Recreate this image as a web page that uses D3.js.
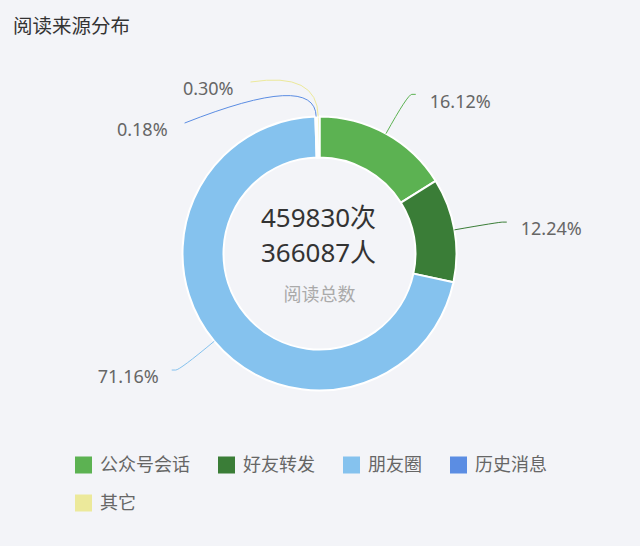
<!DOCTYPE html>
<html lang="zh">
<head>
<meta charset="UTF-8">
<title>阅读来源分布</title>
<script src="https://d3js.org/d3.v7.min.js"></script>
<style>
  html, body { margin: 0; padding: 0; background: #f3f4f8; }
  svg { display: block; }
</style>
</head>
<body>
<div id="chart"></div>
<script>
// data
const categories = ['公众号会话', '好友转发', '朋友圈', '历史消息', '其它'];
const shares = [16.12, 12.24, 71.16, 0.18, 0.30];
const colors = ['#5cb252', '#3a7d37', '#85c2ee', '#5b8de3', '#ece99b'];
const title = '阅读来源分布';
const centerLines = ['459830次', '366087人'];
const centerCaption = '阅读总数';

const width = 640, height = 546;
const cx = 319.5, cy = 253.5;
const rInner = 96, rOuter = 137;
const len1 = 45, len2 = 8;          // leader line segments
const labelFont = 'Noto Sans, "Noto Sans CJK SC", sans-serif';
// labels the overlap pass pushes down (px), keyed by category index
const labelShift = { 3: 51.5, 4: 10.5 };

const svg = d3.select('#chart').append('svg')
  .attr('width', width)
  .attr('height', height);

svg.append('text')
  .attr('x', 13)
  .attr('y', 33)
  .attr('font-family', labelFont)
  .attr('font-size', 19.5)
  .attr('fill', '#333')
  .text(title);

const pie = d3.pie().sort(null).value(d => d)(shares);
const arc = d3.arc().innerRadius(rInner).outerRadius(rOuter);

const g = svg.append('g').attr('transform', `translate(${cx},${cy})`);

g.selectAll('path.slice')
  .data(pie)
  .join('path')
  .attr('class', 'slice')
  .attr('d', arc)
  .attr('fill', (d, i) => colors[i])
  .attr('stroke', '#fff')
  .attr('stroke-width', 2);

// leader lines + labels
const R = rOuter + len1;
pie.forEach((d, i) => {
  const a = (d.startAngle + d.endAngle) / 2;
  const sx = rOuter * Math.sin(a), sy = -rOuter * Math.cos(a);
  const ex = R * Math.sin(a), ey = -R * Math.cos(a);
  const right = Math.sin(a) >= 0;
  let ly = ey, lx = ex;
  if (labelShift[i]) {
    ly = ey + labelShift[i];
    lx = (right ? 1 : -1) * Math.sqrt(R * R - ly * ly);
  }
  const endX = lx + (right ? len2 : -len2);
  const p = d3.path();
  p.moveTo(sx, sy);
  if (labelShift[i]) {
    p.quadraticCurveTo(ex, ey, endX, ly);
  } else {
    p.quadraticCurveTo(ex, ey, (ex + endX) / 2, ly);
    p.lineTo(endX, ly);
  }
  g.append('path')
    .attr('d', p.toString())
    .attr('fill', 'none')
    .attr('stroke', colors[i])
    .attr('stroke-width', 1);

  const gap = right ? 14 : (labelShift[i] ? -17 : -13);
  g.append('text')
    .attr('x', endX + gap)
    .attr('y', ly + 7)
    .attr('dy', '0.35em')
    .attr('text-anchor', right ? 'start' : 'end')
    .attr('font-family', labelFont)
    .attr('font-size', 18)
    .attr('fill', '#666')
    .text(d3.format('.2f')(shares[i]) + '%');
});

// center text
g.selectAll('text.center')
  .data(centerLines)
  .join('text')
  .attr('class', 'center')
  .attr('x', -1)
  .attr('y', (d, i) => -27 + i * 35)
  .attr('text-anchor', 'middle')
  .attr('font-family', labelFont)
  .attr('font-size', 26)
  .attr('fill', '#333')
  .text(d => d);

g.append('text')
  .attr('x', 0)
  .attr('y', 47)
  .attr('text-anchor', 'middle')
  .attr('font-family', labelFont)
  .attr('font-size', 18)
  .attr('fill', '#aaa')
  .text(centerCaption);

// legend
const legend = svg.append('g');
let lx = 75, ly = 465;
const itemGap = 28, maxX = 600;
categories.forEach((c, i) => {
  const item = legend.append('g');
  item.append('rect')
    .attr('x', 0).attr('y', -8.5)
    .attr('width', 17).attr('height', 17)
    .attr('fill', colors[i]);
  const t = item.append('text')
    .attr('x', 25)
    .attr('y', 0)
    .attr('dy', '0.35em')
    .attr('font-family', labelFont)
    .attr('font-size', 18)
    .attr('fill', '#666')
    .text(c);
  const w = 25 + t.node().getComputedTextLength();
  if (lx + w > maxX) { lx = 75; ly += 38; }
  item.attr('transform', `translate(${lx},${ly})`);
  lx += w + itemGap;
});
</script>
</body>
</html>
